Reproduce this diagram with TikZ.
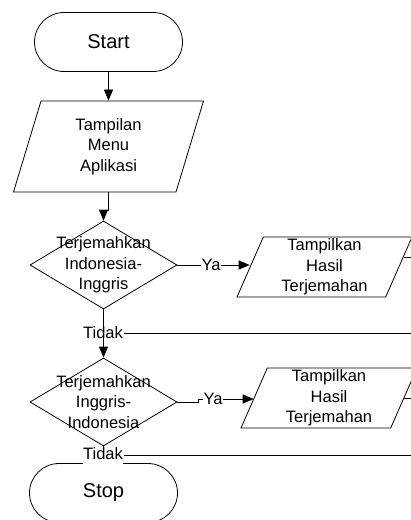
\documentclass[tikz,border=0pt]{standalone}
\usepackage{fontspec}
\setmainfont{Liberation Sans}
\usetikzlibrary{shapes.geometric,shapes.misc,arrows.meta,positioning}

\begin{document}
\begin{tikzpicture}[
  x=1pt, y=-1pt,
  line width=0.8pt,
  every node/.style={font=\fontsize{16.5}{20.5}\selectfont},
  >={Triangle[length=11pt,width=9pt]},
  terminal/.style={draw, rounded rectangle, minimum width=148pt, minimum height=59pt,
    inner sep=0pt, font=\fontsize{20}{24}\selectfont},
  io/.style={draw, trapezium, trapezium left angle=65, trapezium right angle=115,
    trapezium stretches body, align=center, inner sep=0pt},
  decision/.style={draw, diamond, minimum width=147pt, minimum height=88pt, inner sep=0pt},
  flow/.style={->},
  lbl/.style={inner sep=0.5pt},
]

% --- Frame ---
\useasboundingbox (0,0) rectangle (411,520);
\clip (0,0) rectangle (411,520);
\coordinate (edge) at (416,0);

% --- Main column ---
\node[terminal] (start) at (108.5,42) {Start};
\node[io, minimum width=190pt, minimum height=91pt,
  trapezium left angle=64, trapezium right angle=116] (menu) at (108.5,146.5)
  {Tampilan\\Menu\\Aplikasi};
\node[decision] (d1) at (103.5,265) {};
\node[align=center] (t1) at (d1) {Terjemahkan\\Indonesia-\\Inggris};
\node[lbl] (tidak1) at (103,333) {Tidak};
\node[decision] (d2) at (103.5,402) {};
\node[align=center] (t2) at (d2) {Terjemahkan\\Inggris-\\Indonesia};
\node[terminal] (stop) at (103.5,493) {Stop};

% --- Right column ---
\node[lbl] (ya1) at (211,265) {Ya};
\node[io, minimum width=175pt, minimum height=60pt] (hasil1) at (324.5,267)
  {Tampilkan\\Hasil\\Terjemahan};
\node[lbl] (ya2) at (213,399) {Ya};
\node[io, minimum width=176pt, minimum height=60pt] (hasil2) at (329,398)
  {Tampilkan\\Hasil\\Terjemahan};

% --- Connectors ---
\draw[flow] (start) -- (menu);
\draw[flow] (menu.south) -- ++(0,18) -| (d1.north);
\draw (d1.east) -- (ya1.west);
\draw[flow] (ya1.east) -- (ya1.east -| hasil1.west);
\draw[flow] (d1.south) -- (d2.north);
\draw (d2.east) -- ++(21,0) |- (ya2.west);
\draw[flow] (ya2.east) -- (ya2.east -| hasil2.west);
\draw (d2.south) -- (stop.north);

% --- Return lines (leave the frame) ---
\draw (hasil1.7) -- (hasil1.7 -| edge);
\draw (hasil2.east) -- (hasil2.east -| edge);
\draw (tidak1.east) -- (tidak1.east -| edge);
\node[lbl, fill=white, text height=11pt, text depth=6pt, inner ysep=1pt] (tidak2)
  at (103,456.5) {Tidak};
\draw ([yshift=1.5pt]tidak2.east) -- ([yshift=1.5pt]tidak2.east -| edge);

\end{tikzpicture}
\end{document}
